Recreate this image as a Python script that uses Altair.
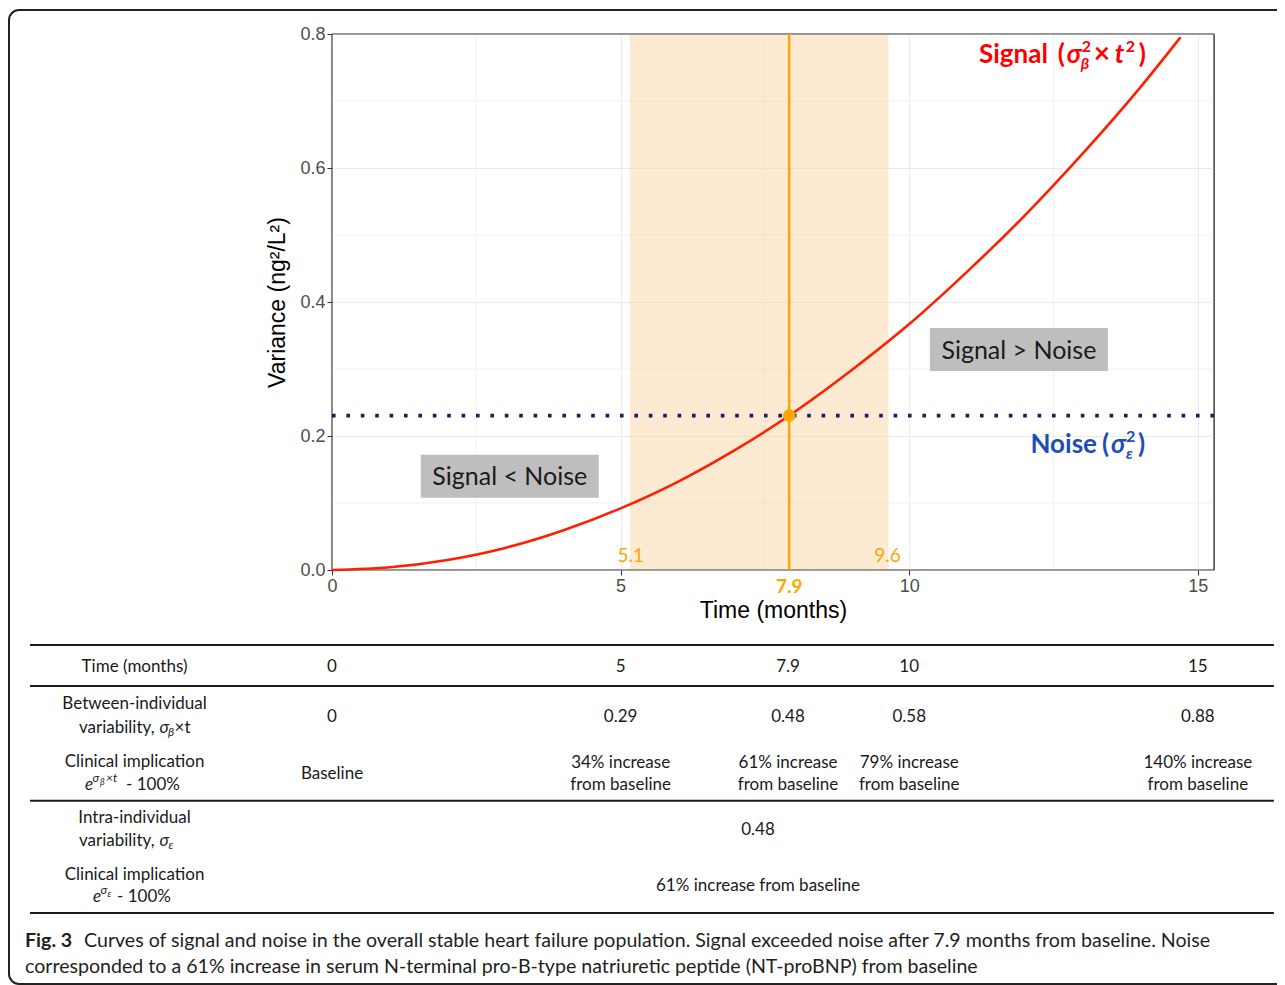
import altair as alt
import pandas as pd

# ---------------- data ----------------
time_ticks = [0, 5, 10, 15]
var_ticks = [0.0, 0.2, 0.4, 0.6, 0.8]
minor_x = [2.5, 7.5, 12.5]
minor_y = [0.1, 0.3, 0.5, 0.7]

curve_t = [0, 1, 2, 3, 4, 5, 6, 7, 8, 9, 10, 11, 12, 13, 14, 14.7]
curve_v = [0.0, 0.004, 0.015, 0.033, 0.059, 0.092, 0.132, 0.180, 0.235,
           0.298, 0.367, 0.445, 0.529, 0.621, 0.720, 0.795]

noise_var = 0.2304
cross_t = 7.92
cross_label = "7.9"
band_lo, band_hi = 5.16, 9.64
band_labels = ["5.1", "9.6"]

box_labels = ["Signal > Noise", "Signal < Noise"]
box_t = [11.90, 3.08]
box_v = [0.329, 0.140]

table_cols = [0, 5, 7.9, 10, 15]
time_row = ["0", "5", "7.9", "10", "15"]
between_row = ["0", "0.29", "0.48", "0.58", "0.88"]
clinical_row = ["Baseline", "34% increase\nfrom baseline", "61% increase\nfrom baseline",
                "79% increase\nfrom baseline", "140% increase\nfrom baseline"]
intra_value = "0.48"
intra_clinical = "61% increase from baseline"
intra_col = 7.38

caption_bold = "Fig. 3"
caption_1 = ("Curves of signal and noise in the overall stable heart failure population. "
             "Signal exceeded noise after 7.9 months from baseline. Noise")
caption_2 = ("corresponded to a 61% increase in serum N-terminal pro-B-type natriuretic "
             "peptide (NT-proBNP) from baseline")

# ---------------- scales / axes ----------------
X_MAX = 15.28
Y_MAX = 0.8
xs = alt.Scale(domain=[0, X_MAX], nice=False, zero=False)
ys = alt.Scale(domain=[0, Y_MAX], nice=False, zero=True)
ts = alt.Scale(domain=[0, 4.72], range=[611, 879])  # table rows
ROW_PX = 268 / 4.72

X_AX = alt.Axis(values=time_ticks, title="Time (months)", format="d")
Y_AX = alt.Axis(values=var_ticks, format=".1f", title="Variance (ng²/L²)")

RED = "#FF1F00"
ORANGE = "#FFA500"
NAVY = "#1B1B6E"
BLUE = "#1E4DB7"
INK = "#1a1a1a"
BORDER = "#555555"


def one(**cols):
    return pd.DataFrame({k: [v] for k, v in cols.items()})


def X(field):
    return alt.X(field, scale=xs, axis=X_AX)


def Y(field):
    return alt.Y(field, scale=ys, axis=Y_AX)


def R(field):
    return alt.Y(field, scale=ts, axis=None)


def ptext(text, t, v, **kw):
    base = dict(font="Lato", baseline="alphabetic", align="left")
    base.update(kw)
    return alt.Chart(one(t=t, v=v, s=text)).mark_text(**base).encode(
        x=X("t:Q"), y=Y("v:Q"), text="s:N")


def tpiece(text, t, r, **kw):
    base = dict(font="Lato", baseline="middle", align="center", fontSize=17, color=INK)
    base.update(kw)
    return alt.Chart(one(t=t, r=r, s=text)).mark_text(**base).encode(
        x=X("t:Q"), y=R("r:Q"), text="s:N")


# ---------------- plot ----------------
minor_vx = alt.Chart(pd.DataFrame({"t": minor_x})).mark_rule(color="#F1F1F1", strokeWidth=1).encode(
    x=X("t:Q"))
minor_hy = alt.Chart(pd.DataFrame({"v": minor_y})).mark_rule(color="#F1F1F1", strokeWidth=1).encode(
    y=Y("v:Q"))

band = alt.Chart(one(lo=band_lo, hi=band_hi)).mark_rect(color="#F9D39C", opacity=0.45).encode(
    x=X("lo:Q"), x2="hi:Q")

curve = alt.Chart(pd.DataFrame({"t": curve_t, "v": curve_v})).mark_line(
    color=RED, strokeWidth=2.6, interpolate="monotone").encode(x=X("t:Q"), y=Y("v:Q"))

vline = alt.Chart(one(t=cross_t)).mark_rule(color=ORANGE, strokeWidth=2.5).encode(x=X("t:Q"))

noise = alt.Chart(one(v=noise_var)).mark_rule(
    color=NAVY, strokeWidth=3.6, strokeDash=[3.6, 10.8], strokeCap="butt").encode(y=Y("v:Q"))

dot = alt.Chart(one(t=cross_t, v=noise_var)).mark_circle(size=160, color=ORANGE, opacity=1).encode(
    x=X("t:Q"), y=Y("v:Q"))

# panel border (drawn on top of the grid)
border_v = alt.Chart(pd.DataFrame({"t": [0, X_MAX]})).mark_rule(color=BORDER, strokeWidth=1.2).encode(
    x=X("t:Q"))
border_h = alt.Chart(pd.DataFrame({"v": [0, Y_MAX]})).mark_rule(color=BORDER, strokeWidth=1.2).encode(
    y=Y("v:Q"))

boxes_df = pd.DataFrame({"t": box_t, "v": box_v, "s": box_labels})
boxes = alt.Chart(boxes_df).mark_rect(
    color="#BEBEBE", xOffset=-89, x2Offset=89, yOffset=-21.5, y2Offset=21.5).encode(
    x=X("t:Q"), x2="t:Q", y=Y("v:Q"), y2="v:Q")
box_text = alt.Chart(boxes_df).mark_text(font="Lato", fontSize=25, color=INK, baseline="middle",
                                         align="center", dy=1).encode(
    x=X("t:Q"), y=Y("v:Q"), text="s:N")

band_lbls = [
    ptext(band_labels[0], band_lo, 0, dx=1, dy=-8, fontSize=19, color=ORANGE, align="center"),
    ptext(band_labels[1], band_hi, 0, dx=-1, dy=-8, fontSize=19, color=ORANGE, align="center"),
    ptext(cross_label, cross_t, 0, dy=23, fontSize=19, fontWeight="bold", color=ORANGE, align="center"),
]

# Signal (σ²β × t²) label, anchored at its left edge
sig_t, sig_v = 11.345, 0.757
S = dict(color="#FF0000", fontWeight="bold")
signal_lbl = [
    ptext("Signal", sig_t, sig_v, dx=61, align="right", fontSize=26, **S),
    ptext("(", sig_t, sig_v, dx=71, fontSize=26, **S),
    ptext("σ", sig_t, sig_v, dx=80, fontSize=26, fontStyle="italic", **S),
    ptext("2", sig_t, sig_v, dx=95, dy=-11, fontSize=16, **S),
    ptext("β", sig_t, sig_v, dx=94, dy=6, fontSize=16, fontStyle="italic", **S),
    ptext("×", sig_t, sig_v, dx=107, fontSize=28, **S),
    ptext("t", sig_t, sig_v, dx=128, fontSize=26, fontStyle="italic", **S),
    ptext("2", sig_t, sig_v, dx=139, dy=-11, fontSize=16, **S),
    ptext(")", sig_t, sig_v, dx=152, fontSize=26, **S),
]

# Noise (σ²ε) label
noi_t, noi_v = 12.265, 0.1746
N = dict(color=BLUE, fontWeight="bold")
noise_lbl = [
    ptext("Noise", noi_t, noi_v, dx=57, align="right", fontSize=26, **N),
    ptext("(", noi_t, noi_v, dx=62, fontSize=26, **N),
    ptext("σ", noi_t, noi_v, dx=71, fontSize=26, fontStyle="italic", **N),
    ptext("2", noi_t, noi_v, dx=86, dy=-11, fontSize=16, **N),
    ptext("ε", noi_t, noi_v, dx=86, dy=6, fontSize=16, fontStyle="italic", **N),
    ptext(")", noi_t, noi_v, dx=98, fontSize=26, **N),
]

plot = alt.layer(minor_vx, minor_hy, band, border_v, border_h, curve, vline, noise, dot,
                 boxes, box_text, *band_lbls, *signal_lbl, *noise_lbl)

# ---------------- table ----------------
HEAD_T = -3.421
rules_df = pd.DataFrame({"r": [0, 0.72, 2.745, 4.72], "a": [-5.231] * 4, "b": [16.317] * 4})
rules = alt.Chart(rules_df).mark_rule(color=INK, strokeWidth=2).encode(
    x=X("a:Q"), x2="b:Q", y=R("r:Q"))


def row_values(vals, r, line_px=22.5, **kw):
    recs = []
    for t, v in zip(table_cols, vals):
        lines = v.split("\n")
        n = len(lines)
        for i, ln in enumerate(lines):
            recs.append({"t": t, "s": ln, "r": r + (i - (n - 1) / 2) * line_px / ROW_PX})
    base = dict(font="Lato", baseline="middle", align="center", fontSize=17, color=INK)
    base.update(kw)
    return alt.Chart(pd.DataFrame(recs)).mark_text(**base).encode(
        x=X("t:Q"), y=R("r:Q"), text="s:N")


CAP = dict(fontSize=19.6, color="#231F20", align="left")
table_layers = [
    rules,
    row_values(time_row, 0.387),
    row_values(between_row, 1.268),
    row_values(clinical_row, 2.272),
    tpiece(intra_value, intra_col, 3.258),
    tpiece(intra_clinical, intra_col, 4.244),
    # row headers
    tpiece("Time (months)", HEAD_T, 0.387),
    tpiece("Between-individual", HEAD_T, 1.039),
    tpiece("variability,", HEAD_T, 1.462, dx=20, align="right"),
    tpiece("σ", HEAD_T, 1.462, dx=25, align="left", fontStyle="italic"),
    tpiece("β", HEAD_T, 1.462, dx=33.5, dy=4, align="left", fontStyle="italic", fontSize=12),
    tpiece("×t", HEAD_T, 1.462, dx=40, align="left"),
    tpiece("Clinical implication", HEAD_T, 2.061),
    tpiece("e", HEAD_T, 2.474, dx=-49.5, align="left", fontStyle="italic"),
    tpiece("σ", HEAD_T, 2.474, dx=-42, dy=-7, align="left", fontStyle="italic", fontSize=12),
    tpiece("β", HEAD_T, 2.474, dx=-34.5, dy=-3, align="left", fontStyle="italic", fontSize=9),
    tpiece("×t", HEAD_T, 2.474, dx=-28.5, dy=-7, align="left", fontStyle="italic", fontSize=12),
    tpiece("- 100%", HEAD_T, 2.474, dx=-8.5, align="left"),
    tpiece("Intra-individual", HEAD_T, 3.047),
    tpiece("variability,", HEAD_T, 3.460, dx=20, align="right"),
    tpiece("σ", HEAD_T, 3.460, dx=25, align="left", fontStyle="italic"),
    tpiece("ε", HEAD_T, 3.460, dx=34, dy=4, align="left", fontStyle="italic", fontSize=12),
    tpiece("Clinical implication", HEAD_T, 4.051),
    tpiece("e", HEAD_T, 4.446, dx=-41.5, align="left", fontStyle="italic"),
    tpiece("σ", HEAD_T, 4.446, dx=-34, dy=-7, align="left", fontStyle="italic", fontSize=12),
    tpiece("ε", HEAD_T, 4.446, dx=-27, dy=-3, align="left", fontStyle="italic", fontSize=9),
    tpiece("- 100%", HEAD_T, 4.446, dx=-17.5, align="left"),
    # caption
    tpiece(caption_bold, -5.318, 5.213, fontWeight="bold", **CAP),
    tpiece(caption_1, -5.318, 5.213, dx=59, **CAP),
    tpiece(caption_2, -5.318, 5.671, **CAP),
]
table = alt.layer(*table_layers)

frame = alt.Chart(one(a=0)).mark_rect(
    fillOpacity=0, stroke="#222222", strokeWidth=2, cornerRadius=10).encode(
    x=alt.value(-323), x2=alt.value(990), y=alt.value(-24), y2=alt.value(950))

chart = alt.layer(plot, table, frame).resolve_scale(y="independent").properties(
    width=882, height=536,
    autosize=alt.AutoSizeParams(type="none"),
    padding={"left": 324, "top": 26, "right": 63, "bottom": 415},
).configure_view(
    stroke=BORDER, strokeWidth=1.2
).configure_axis(
    domain=False, labelFlush=False,
    grid=True, gridColor="#EBEBEB", gridWidth=1.1,
    ticks=True, tickColor="#333333", tickSize=5, tickWidth=1.1,
    labelFont="Liberation Sans", labelFontSize=18, labelColor="#4D4D4D", labelPadding=2,
    titleFont="Liberation Sans", titleFontSize=23, titleFontWeight="normal", titleColor="#000000",
).configure_axisX(titlePadding=4).configure_axisY(titlePadding=10)

chart.save("out.html", embed_options={"renderer": "svg", "actions": False})
